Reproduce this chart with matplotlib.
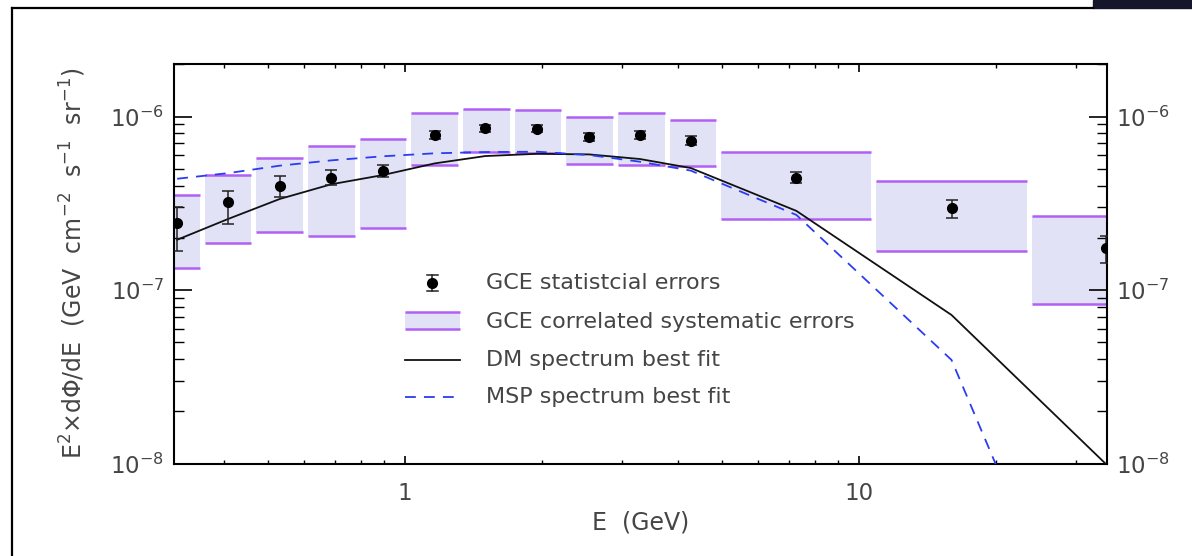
import matplotlib
matplotlib.use("Agg")
import matplotlib.pyplot as plt
from matplotlib.lines import Line2D
from matplotlib.patches import Rectangle
from matplotlib.ticker import LogLocator, NullFormatter, FixedLocator, FixedFormatter

# ---------------- data ----------------
energy = [0.315, 0.408, 0.530, 0.688, 0.894, 1.163, 1.503, 1.957, 2.543,
          3.293, 4.259, 7.278, 15.98, 34.9]
flux = [2.45e-7, 3.23e-7, 3.96e-7, 4.42e-7, 4.83e-7, 7.82e-7, 8.55e-7,
        8.50e-7, 7.59e-7, 7.79e-7, 7.26e-7, 4.44e-7, 2.96e-7, 1.74e-7]
flux_err_lower = [0.77e-7, 0.82e-7, 0.54e-7, 0.39e-7, 0.33e-7, 0.43e-7, 0.40e-7,
                  0.40e-7, 0.40e-7, 0.40e-7, 0.40e-7, 0.29e-7, 0.35e-7, 0.30e-7]
flux_err_upper = [0.55e-7, 0.51e-7, 0.58e-7, 0.52e-7, 0.43e-7, 0.46e-7, 0.42e-7,
                  0.42e-7, 0.42e-7, 0.42e-7, 0.42e-7, 0.33e-7, 0.34e-7, 0.31e-7]

bin_lo = [0.276, 0.3575, 0.464, 0.603, 0.785, 1.019, 1.323, 1.722, 2.237,
          2.904, 3.78, 4.91, 10.77, 23.7]
bin_hi = [0.3575, 0.464, 0.603, 0.785, 1.019, 1.323, 1.722, 2.237, 2.904,
          3.78, 4.91, 10.77, 23.7, 52.0]
sys_top = [3.53e-7, 4.60e-7, 5.74e-7, 6.79e-7, 7.42e-7, 1.043e-6, 1.10e-6,
           1.086e-6, 9.93e-7, 1.043e-6, 9.55e-7, 6.22e-7, 4.23e-7, 2.66e-7]
sys_bottom = [1.335e-7, 1.867e-7, 2.17e-7, 2.057e-7, 2.288e-7, 5.28e-7, 6.22e-7,
              6.19e-7, 5.35e-7, 5.28e-7, 5.16e-7, 2.58e-7, 1.673e-7, 8.32e-8]

dm_fit = [1.95e-7, 2.57e-7, 3.35e-7, 4.07e-7, 4.60e-7, 5.37e-7, 5.92e-7,
          6.10e-7, 6.05e-7, 5.69e-7, 5.05e-7, 2.86e-7, 7.19e-8, 1.0e-8]
msp_fit = [4.38e-7, 4.72e-7, 5.21e-7, 5.59e-7, 5.90e-7, 6.14e-7, 6.24e-7,
           6.27e-7, 6.00e-7, 5.49e-7, 4.88e-7, 2.71e-7, 3.96e-8, 3.2e-10]

x_ticks = [1, 10]
x_ticklabels = ["1", "10"]
legend_labels = ["GCE statistcial errors", "GCE correlated systematic errors",
                 "DM spectrum best fit", "MSP spectrum best fit"]

# ---------------- style ----------------
W, H = 1192, 556
TEXT = "#454545"
PURPLE = "#b060f4"
FILL = "#e2e2f7"
BLUE = "#2b3cf2"
GAP = 1.0128

plt.rcParams['font.family'] = ['DejaVu Sans']
fig = plt.figure(figsize=(W / 100, H / 100), dpi=100)
ax = fig.add_axes([174 / W, 1 - 463.7 / H, (1106.7 - 174) / W, (463.7 - 63.7) / H])

# systematic boxes
for lo, hi, t, b in zip(bin_lo, bin_hi, sys_top, sys_bottom):
    x0, x1 = lo * GAP, hi / GAP
    ax.fill_between([x0, x1], [b, b], [t, t], color=FILL, lw=0, zorder=1)
    ax.plot([x0, x1], [t, t], color=PURPLE, lw=1.8, zorder=2, solid_capstyle='butt')
    ax.plot([x0, x1], [b, b], color=PURPLE, lw=1.8, zorder=2, solid_capstyle='butt')

ax.plot(energy, dm_fit, color='#111111', lw=1.3, zorder=3)
ax.plot(energy, msp_fit, color=BLUE, lw=1.3, ls=(0, (6, 4.5)), zorder=3)

ax.errorbar(energy, flux, yerr=[flux_err_lower, flux_err_upper], fmt='o',
            color='black', ecolor='#222222', ms=7, elinewidth=1.1, capsize=4.5,
            capthick=1.1, zorder=5, clip_on=True)

ax.set_xscale('log')
ax.set_yscale('log')
ax.set_xlim(0.31, 35.1)
ax.set_ylim(1e-8, 2.015e-6)

ax.xaxis.set_major_locator(FixedLocator(x_ticks))
ax.xaxis.set_major_formatter(FixedFormatter(x_ticklabels))
ax.xaxis.set_minor_locator(LogLocator(base=10, subs=range(2, 10)))
ax.xaxis.set_minor_formatter(NullFormatter())
ax.yaxis.set_minor_locator(LogLocator(base=10, subs=range(2, 10)))
ax.yaxis.set_minor_formatter(NullFormatter())

ax.tick_params(axis='x', which='major', direction='in', length=5.8, width=1.2,
               top=True, bottom=True, labelsize=16.5, labelcolor=TEXT, pad=13)
ax.tick_params(axis='x', which='minor', direction='in', length=3, width=1.0,
               top=True, bottom=True)
ax.tick_params(axis='y', which='major', direction='in', length=13, width=1.2,
               left=True, right=True, labelleft=True, labelright=True,
               labelsize=16.5, labelcolor=TEXT, pad=7)
ax.tick_params(axis='y', which='minor', direction='in', length=7, width=1.0,
               left=True, right=True)
for s in ax.spines.values():
    s.set_linewidth(1.5)

ax.set_xlabel("E  (GeV)", fontsize=17, color=TEXT, labelpad=4)
ax.set_ylabel(r"E$^2$$\times$d$\Phi$/dE  (GeV  cm$^{-2}$  s$^{-1}$  sr$^{-1}$)",
              fontsize=17, color=TEXT, labelpad=16)

# ---------------- legend (drawn by hand) ----------------
def fy(ypix):
    return 1 - (ypix - 63.7) / 400.0

def fx(xpix):
    return (xpix - 174) / (1106.7 - 174)

rows = [283.3, 321.7, 360.0, 397.3]
tr = ax.transAxes
# error-bar symbol
ax.plot([fx(432.3)], [fy(rows[0])], 'o', color='black', ms=7, transform=tr, zorder=6)
ax.plot([fx(432.3)] * 2, [fy(rows[0] - 8), fy(rows[0] + 8)], color='#222222', lw=1.1, transform=tr)
for dy in (-8, 8):
    ax.plot([fx(427), fx(437.6)], [fy(rows[0] + dy)] * 2, color='#222222', lw=1.1, transform=tr)
# systematic symbol
ax.fill_between([fx(405), fx(460)], [fy(329.3)] * 2, [fy(311.7)] * 2, color=FILL, lw=0, transform=tr)
for yy in (311.7, 329.3):
    ax.plot([fx(405), fx(460)], [fy(yy)] * 2, color=PURPLE, lw=1.8, transform=tr,
            solid_capstyle='butt')
ax.plot([fx(405), fx(460)], [fy(rows[2])] * 2, color='#111111', lw=1.3, transform=tr)
ax.plot([fx(405), fx(460)], [fy(rows[3])] * 2, color=BLUE, lw=1.3, ls=(0, (6, 4.5)), transform=tr)
for r, lab in zip(rows, legend_labels):
    ax.text(fx(486), fy(r), lab, transform=tr, fontsize=16, color=TEXT,
            va='center', ha='left')

# ---------------- frame decorations of the screenshot ----------------
fig.add_artist(Line2D([12.3 / W, 1093 / W], [1 - 7.7 / H] * 2, color='black', lw=1.6,
                      transform=fig.transFigure))
fig.add_artist(Line2D([12.3 / W] * 2, [0, 1 - 7.7 / H], color='black', lw=1.6,
                      transform=fig.transFigure))
fig.add_artist(Rectangle((1093 / W, 1 - 8 / H), 99 / W, 8 / H, color='#15152b',
                         transform=fig.transFigure))

fig.savefig("out.png", dpi=100)
